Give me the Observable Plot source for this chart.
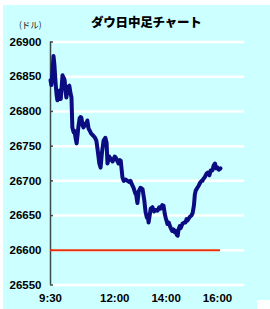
<!DOCTYPE html>
<html>
<head>
<meta charset="utf-8">
<script src="https://cdn.jsdelivr.net/npm/d3@7"></script>
<script src="https://cdn.jsdelivr.net/npm/@observablehq/plot@0.6"></script>
<style>
  html, body { margin: 0; padding: 0; background: #fff; }
  #wrap { position: relative; width: 270px; height: 309px; overflow: hidden; }
  #bg { position: absolute; left: 3px; top: 5px; width: 267px; height: 304px; background: #ccffff; }
  #corner { position: absolute; left: 257px; top: 300px; width: 13px; height: 9px; background: #fff; }
  #chart { position: absolute; left: 0; top: 0; }
  #unit { position: absolute; left: 19px; top: 18px; font: 8.5px "Noto Sans CJK JP", sans-serif; color: #222; }
  #title { position: absolute; left: 91px; top: 12px; font: 900 12.5px "Noto Sans CJK JP", sans-serif; color: #000; white-space: nowrap; letter-spacing: -0.2px; }
</style>
</head>
<body>
<div id="wrap">
  <div id="bg"></div>
  <div id="corner"></div>
  <div id="chart"></div>
  <div id="unit">(ドル)</div>
  <div id="title">ダウ日中足チャート</div>
</div>
<script>
// minutes after 9:30
const times = [0,2,5,7,9,12,14,16,19,21,24,28,31,33,35,37,40,44,47,49,51,54,56,59,61,63,65,68,70,72,75,77,80,83,86,89,91,95,100,104,107,110,114,117,120,124,128,131,133,137,140,145,150,152,155,159,162,164,168,171,175,180,185,187,190,194,198,200,203,206,210,215,219,222,225,227,229,232,234,238,242,245,250,254,257,261,264,267,269,273,276,280,284,287,290,292,295,297,299,302,304,308,312,315,318,320,325,329,332,335,337,339,343,346,350,353,355,357,360,364,367,371,374,378,381,384,387,390,393,397];
const prices = [26845,26838,26860,26880,26868,26840,26825,26816,26822,26830,26818,26852,26848,26845,26830,26820,26835,26837,26825,26820,26777,26770,26772,26760,26754,26765,26777,26790,26792,26791,26780,26777,26782,26780,26787,26775,26773,26768,26765,26762,26758,26745,26725,26719,26740,26758,26762,26755,26725,26735,26732,26728,26735,26734,26730,26725,26730,26729,26705,26700,26702,26700,26698,26700,26695,26690,26682,26680,26668,26685,26690,26688,26672,26655,26647,26650,26640,26652,26660,26662,26656,26658,26657,26662,26660,26665,26664,26652,26647,26638,26640,26633,26628,26630,26626,26628,26622,26621,26630,26635,26632,26638,26640,26640,26645,26643,26648,26650,26654,26665,26680,26686,26690,26693,26698,26700,26700,26703,26705,26710,26712,26708,26715,26715,26722,26725,26718,26719,26716,26718];
const yTicks = [26550,26600,26650,26700,26750,26800,26850,26900];
const xTickTimes = [0,150,270,390];
const xTickLabels = ["9:30","12:00","14:00","16:00"];
const refLevel = [26600];

const data = times.map((t, i) => ({t, p: prices[i]}));
const tMin = d3.min(times), tMax = d3.max(times);

const chart = Plot.plot({
  width: 270,
  height: 309,
  marginTop: 41.5,
  marginLeft: 50,
  marginRight: 26,
  marginBottom: 24.5,
  style: {background: "transparent", fontFamily: "'Liberation Sans', Arial, sans-serif"},
  x: {domain: [0, 453]},
  y: {domain: [26550, 26900]},
  marks: [
    Plot.ruleY(yTicks, {stroke: "#ffffff", strokeWidth: 2.5}),
    Plot.ruleX([0], {stroke: "#3a4a4a", strokeWidth: 1.5}),
    Plot.axisY({ticks: yTicks, tickSize: -3, tickPadding: 12, stroke: "#3a4a4a", strokeWidth: 1.5,
      fill: "#000", fontWeight: "bold", fontSize: 11.5, label: null, tickFormat: d => String(d)}),
    Plot.axisX({ticks: xTickTimes, tickSize: 0, tickPadding: 9, fill: "#000", fontWeight: "bold", fontSize: 11.5,
      label: null, tickFormat: (d) => xTickLabels[xTickTimes.indexOf(d)]}),
    Plot.ruleY(refLevel, {x1: tMin, x2: tMax, stroke: "#e8300c", strokeWidth: 2}),
    Plot.line(data, {x: "t", y: "p", stroke: "#0c0c82", strokeWidth: 4, strokeLinejoin: "round", strokeLinecap: "round"})
  ]
});
document.getElementById("chart").appendChild(chart);
</script>
</body>
</html>
